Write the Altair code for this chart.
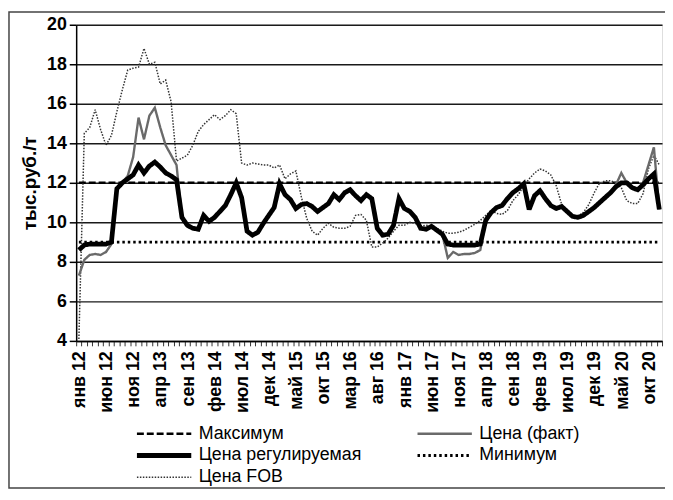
import json
import altair as alt
import pandas as pd

# ---- data (monthly, Jan 2012 .. Dec 2020) ----
x_labels = ["янв 12", "июн 12", "ноя 12", "апр 13", "сен 13", "фев 14", "июл 14",
            "дек 14", "май 15", "окт 15", "мар 16", "авг 16", "янв 17", "июн 17",
            "ноя 17", "апр 18", "сен 18", "фев 19", "июл 19", "дек 19", "май 20", "окт 20"]

price_regulated = [
    8.6, 8.85, 8.9, 8.9, 8.9, 8.9, 9.0, 11.7, 12.0, 12.2,
    12.4, 12.9, 12.5, 12.85, 13.05, 12.8, 12.5, 12.35, 12.15, 10.25,
    9.85, 9.7, 9.65, 10.35, 10.05, 10.25, 10.55, 10.85, 11.4, 12.0,
    11.25, 9.55, 9.35, 9.5, 9.95, 10.35, 10.75, 11.95, 11.4, 11.15,
    10.7, 10.9, 10.95, 10.8, 10.55, 10.75, 10.95, 11.4, 11.15, 11.5,
    11.65, 11.35, 11.1, 11.4, 11.2, 9.7, 9.35, 9.4, 9.85, 11.2,
    10.7, 10.55, 10.25, 9.7, 9.65, 9.8, 9.6, 9.4, 8.9, 8.85,
    8.85, 8.85, 8.85, 8.85, 8.9, 10.1, 10.5, 10.75, 10.85, 11.2,
    11.5, 11.7, 11.95, 10.65, 11.35, 11.6, 11.2, 10.85, 10.7, 10.8,
    10.55, 10.3, 10.25, 10.35, 10.55, 10.75, 11.0, 11.25, 11.5, 11.8,
    12.0, 12.0, 11.75, 11.65, 11.9, 12.2, 12.45, 10.65,
]

price_fact = [
    7.3, 8.1, 8.35, 8.4, 8.35, 8.5, 8.9, 11.7, 12.0, 12.35,
    13.3, 15.3, 14.2, 15.4, 15.8, 14.8, 13.9, 13.4, 12.9, 10.25,
    9.85, 9.7, 9.65, 10.35, 10.05, 10.25, 10.55, 10.85, 11.4, 12.0,
    11.25, 9.55, 9.35, 9.5, 9.95, 10.35, 10.75, 11.95, 11.4, 11.15,
    10.7, 10.9, 10.95, 10.8, 10.55, 10.75, 10.95, 11.4, 11.15, 11.5,
    11.65, 11.35, 11.1, 11.4, 11.2, 9.7, 9.35, 9.4, 9.85, 11.2,
    10.7, 10.55, 10.25, 9.7, 9.65, 9.8, 9.6, 9.4, 8.2, 8.5,
    8.35, 8.4, 8.4, 8.45, 8.6, 10.1, 10.5, 10.75, 10.85, 11.2,
    11.5, 11.7, 12.0, 10.65, 11.35, 11.6, 11.2, 10.85, 10.7, 10.8,
    10.55, 10.3, 10.25, 10.35, 10.55, 10.75, 11.0, 11.25, 11.5, 11.9,
    12.5, 12.0, 11.75, 11.65, 12.0, 12.9, 13.8, 10.65,
]

price_fob = [
    4.1, 14.5, 14.8, 15.7, 14.7, 13.9, 14.4, 15.6, 16.7, 17.7,
    17.8, 17.85, 18.8, 18.0, 18.1, 17.0, 17.2, 16.1, 13.1, 13.25,
    13.4, 13.9, 14.6, 14.95, 15.2, 15.45, 15.2, 15.4, 15.7, 15.5,
    13.0, 12.9, 13.0, 12.95, 12.9, 12.9, 12.75, 12.9, 12.2, 12.45,
    12.6, 11.3, 10.2, 9.55, 9.35, 9.7, 9.95, 9.75, 9.7, 9.7,
    9.8, 10.35, 10.4, 10.1, 8.75, 8.75, 8.95, 9.2, 9.55, 9.85,
    9.85, 10.0, 9.95, 9.8, 9.85, 9.8, 9.7, 9.55, 9.45, 9.45,
    9.5, 9.6, 9.75, 9.9, 10.1, 10.35, 10.6, 10.45, 10.4, 10.6,
    11.1, 11.4, 11.85, 12.2, 12.5, 12.7, 12.6, 12.4, 11.85, 10.9,
    10.5, 10.35, 10.3, 10.5, 10.9, 11.5, 12.0, 12.1, 12.1, 12.0,
    11.75, 11.1, 10.95, 10.95, 11.45, 12.7, 13.4, 12.9,
]

level_max = 12.0
level_min = 9.0

series_names = ["Максимум", "Цена (факт)", "Цена регулируемая", "Минимум", "Цена FOB"]
# legend is filled column by column: left column first, then right column
legend_order = ["Максимум", "Цена регулируемая", "Цена FOB", "Цена (факт)", "Минимум"]

# ---- build the long table ----
n = len(price_regulated)
rows = []
for i in range(n):
    rows.append({"m": i, "v": price_fact[i], "s": "Цена (факт)"})
    rows.append({"m": i, "v": price_regulated[i], "s": "Цена регулируемая"})
    rows.append({"m": i, "v": price_fob[i], "s": "Цена FOB"})
for i in (0, n - 1):
    rows.append({"m": i, "v": level_max, "s": "Максимум"})
    rows.append({"m": i, "v": level_min, "s": "Минимум"})
df = pd.DataFrame(rows)

FONT = "Liberation Sans"

label_expr = ("(datum.value + 0.5) % 5 == 0 ? " + json.dumps(x_labels, ensure_ascii=False)
              + "[(datum.value + 0.5) / 5] : ''")

x_enc = alt.X(
    "m:Q",
    scale=alt.Scale(domain=[-0.5, n - 0.5], nice=False, zero=False),
    axis=alt.Axis(
        values=[k - 0.5 for k in range(n + 1)],
        labelExpr=label_expr,
        labelAngle=-90,
        labelOffset=3.5,
        labelOverlap=False,
        labelFont=FONT,
        labelFontSize=18,
        labelFontWeight="bold",
        labelColor="#000000",
        labelPadding=5,
        tickSize=5,
        tickColor="#333333",
        tickWidth=1,
        domainColor="#000000",
        domainWidth=1.5,
        grid=False,
        title=None,
    ),
)

y_enc = alt.Y(
    "v:Q",
    scale=alt.Scale(domain=[4, 20], nice=False, zero=False),
    axis=alt.Axis(
        values=[4, 6, 8, 10, 12, 14, 16, 18, 20],
        grid=True,
        gridColor="#1a1a1a",
        gridWidth=1.5,
        domainColor="#000000",
        domainWidth=1.5,
        tickColor="#000000",
        tickWidth=1.5,
        tickSize=7,
        labelFont=FONT,
        labelFontSize=18,
        labelFontWeight="bold",
        labelColor="#000000",
        labelPadding=3,
        title="тыс.руб./т",
        titleFont=FONT,
        titleFontSize=19,
        titleFontWeight="bold",
        titleColor="#000000",
        titlePadding=7,
    ),
)

width_signal = ("datum.value === 'Цена регулируемая' ? 5 : "
                "(datum.value === 'Цена FOB' ? 1.5 : "
                "(datum.value === 'Минимум' ? 2.8 : 2.5))")

legend = alt.Legend(
    orient="none",
    legendX=80,
    legendY=405,
    columns=2,
    title=None,
    values=legend_order,
    symbolType="M-5,0H5",
    symbolSize=121,
    symbolStrokeWidth=alt.ExprRef(width_signal),
    labelFont=FONT,
    labelFontSize=18,
    labelColor="#000000",
    labelOffset=26,
    columnPadding=50,
    rowPadding=3,
    labelLimit=400,
)

color_enc = alt.Color(
    "s:N",
    scale=alt.Scale(domain=series_names,
                    range=["#000000", "#6a6a6a", "#000000", "#000000", "#333333"]),
    legend=legend,
)
dash_enc = alt.StrokeDash(
    "s:N",
    scale=alt.Scale(domain=series_names,
                    range=[[7, 3], [1, 0], [1, 0], [2.5, 3], [1.5, 1.5]]),
)

line_widths = {"Максимум": 2.5, "Минимум": 2.8, "Цена FOB": 1.5,
               "Цена (факт)": 2.4, "Цена регулируемая": 4.8}
draw_order = ["Максимум", "Минимум", "Цена FOB", "Цена (факт)", "Цена регулируемая"]

line_layers = [
    alt.Chart(df).transform_filter(alt.datum.s == s)
    .mark_line(strokeJoin="miter", strokeMiterLimit=3)
    .encode(x=x_enc, y=y_enc, color=color_enc, strokeDash=dash_enc,
            strokeWidth=alt.value(line_widths[s]))
    for s in draw_order
]

frame = alt.Chart(pd.DataFrame({"a": [0]})).mark_rect(
    filled=False, stroke="#444444", strokeWidth=1.5
).encode(
    x=alt.value(-68), x2=alt.value(640), y=alt.value(-13), y2=alt.value(469)
)

chart = alt.layer(frame, *line_layers).properties(
    width=593,
    height=320,
    autosize=alt.AutoSizeParams(type="none"),
    padding={"left": 69, "top": 14, "right": 3, "bottom": 150},
).configure_view(stroke=None).configure(background="#ffffff")

chart.save("out.html", embed_options={"renderer": "svg", "actions": False})
